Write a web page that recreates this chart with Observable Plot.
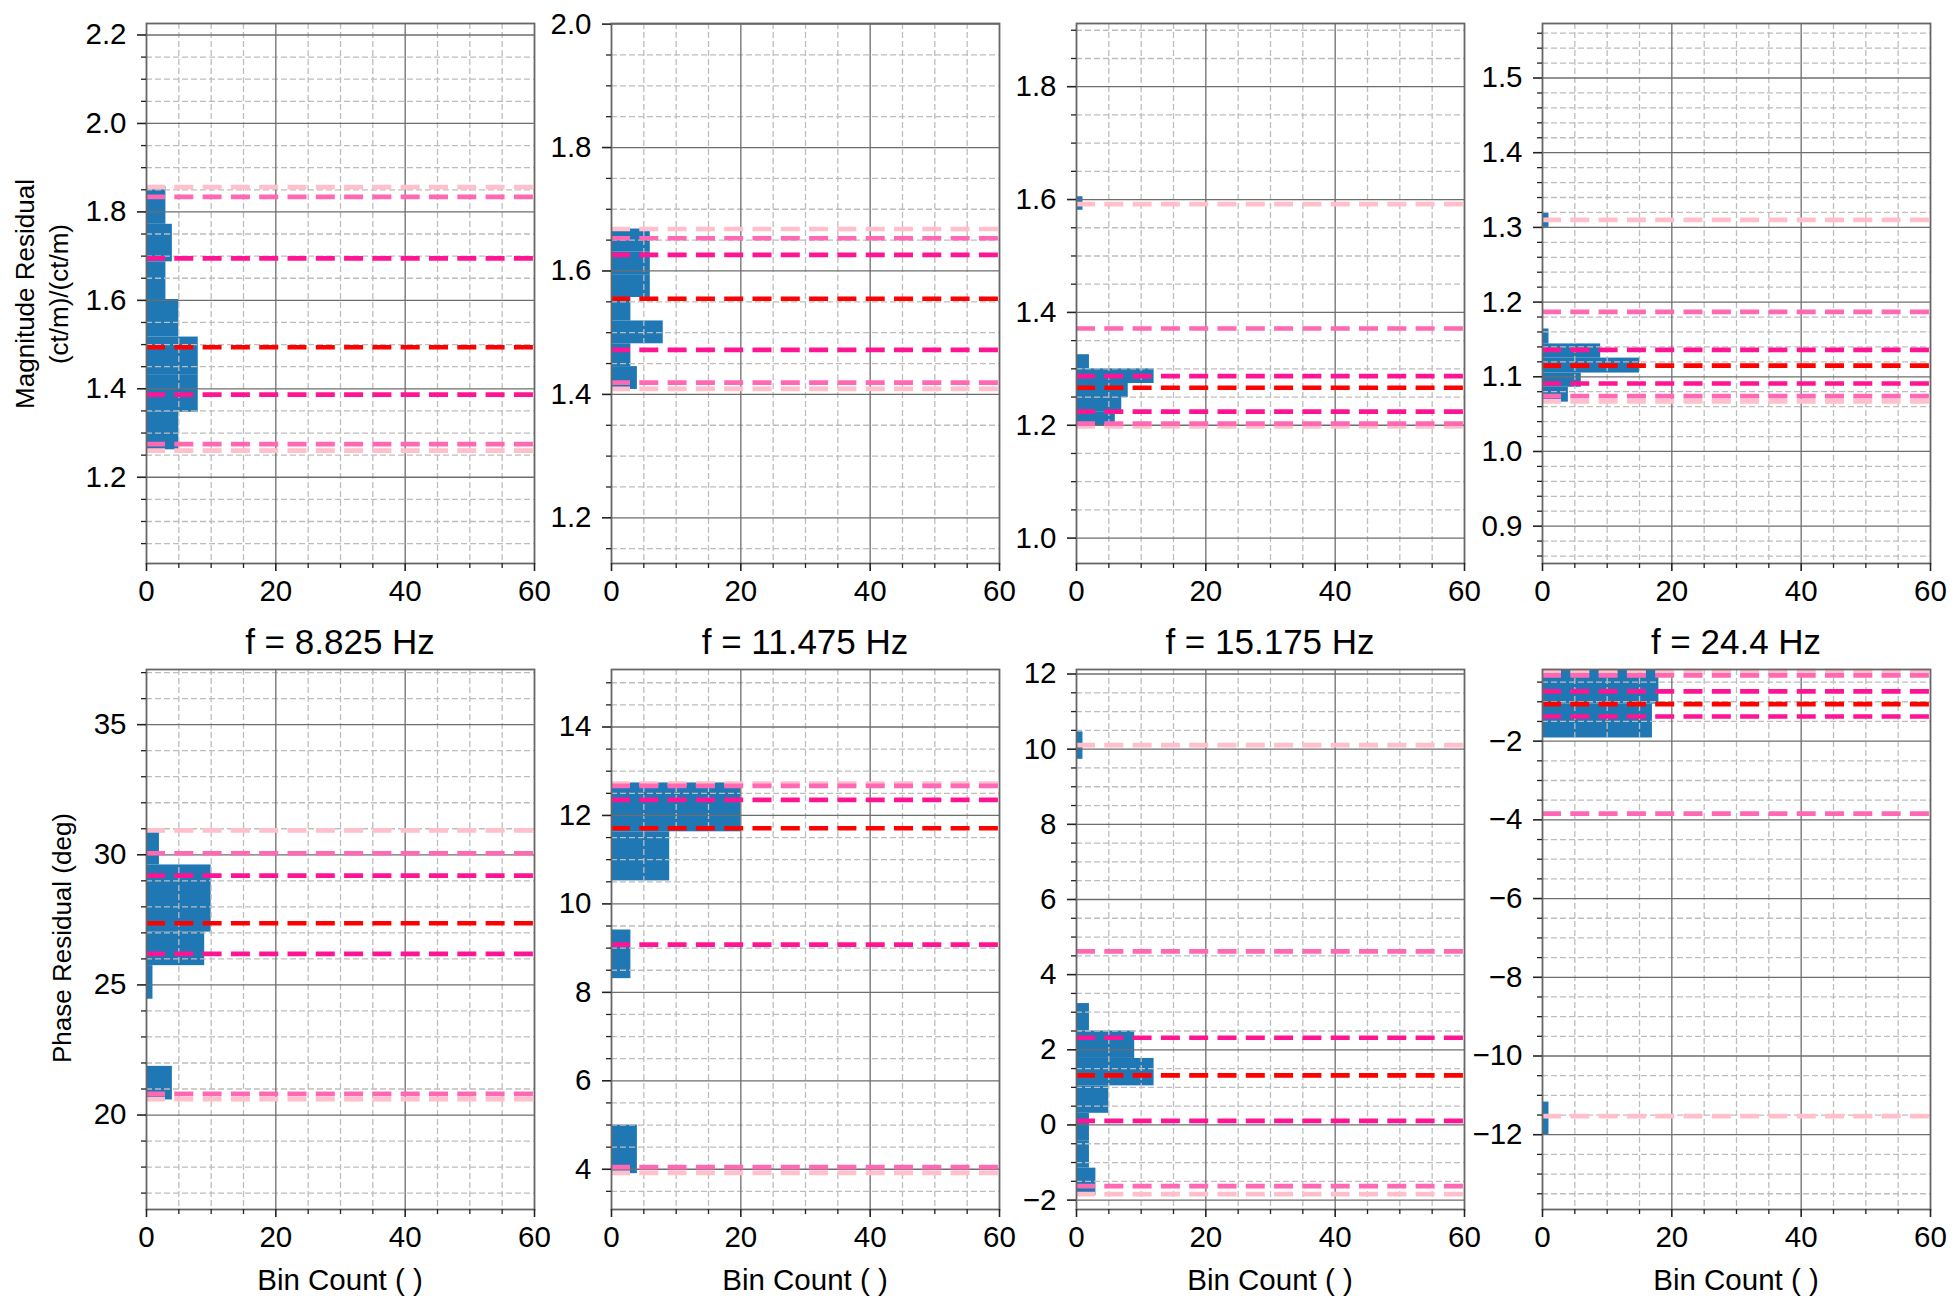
<!DOCTYPE html>
<html><head><meta charset="utf-8">
<script src="https://cdn.jsdelivr.net/npm/d3@7"></script>
<script src="https://cdn.jsdelivr.net/npm/@observablehq/plot@0.6"></script>
<style>
body{margin:0;background:#fff;}
#root{position:relative;width:1955px;height:1300px;background:#fff;font-family:"Liberation Sans",Arial,Helvetica,sans-serif;color:#000;overflow:hidden}
.panel{position:absolute}
.lbl{position:absolute;white-space:nowrap;transform:translate(-50%,-50%);line-height:1}
.ylbl{position:absolute;white-space:nowrap;transform:translate(-50%,-50%) rotate(-90deg);line-height:1.3;text-align:center}
</style></head><body><div id="root"></div>
<script>
// ---------- data ----------
const freqLabels = ["8.825", "11.475", "15.175", "24.4"];
const countTicks = [0, 20, 40, 60];
const countMinor = [5, 10, 15, 25, 30, 35, 45, 50, 55];

// histogram bins: [low edge, high edge, count]
const magBins8825 = [[1.262,1.347,5],[1.347,1.432,8],[1.432,1.517,8],[1.517,1.602,5],[1.602,1.687,3],[1.687,1.772,4],[1.772,1.857,3]];
const magBins11475 = [[1.408,1.445,4],[1.445,1.482,3],[1.482,1.519,8],[1.519,1.557,3],[1.557,1.594,6],[1.594,1.631,6],[1.631,1.668,6]];
const magBins15175 = [[1.199,1.224,6],[1.224,1.249,7],[1.249,1.274,8],[1.274,1.300,12],[1.300,1.325,2],[1.581,1.605,1]];
const magBins24400 = [[1.066,1.086,4],[1.086,1.105,6],[1.105,1.125,15],[1.125,1.144,9],[1.144,1.164,1],[1.300,1.319,1]];
const phaseBins8825 = [[20.58,21.87,4],[24.45,25.74,1],[25.74,27.03,9],[27.03,28.32,10],[28.32,29.61,10],[29.61,30.90,2]];
const phaseBins11475 = [[3.90,5.00,4],[8.31,9.41,3],[10.52,11.63,9],[11.63,12.735,20]];
const phaseBins15175 = [[-1.88,-1.15,3],[-1.15,-0.42,2],[-0.42,0.31,2],[0.31,1.04,5],[1.04,1.77,12],[1.77,2.50,9],[2.50,3.23,2],[9.73,10.46,1]];
const phaseBins24400 = [[-12.01,-11.17,1],[-1.92,-1.06,17],[-1.06,-0.18,18]];

// reference levels (upper outer ... median ... lower outer)
const magLines8825 = [1.856, 1.834, 1.695, 1.494, 1.387, 1.275, 1.260];
const magLines11475 = [1.668, 1.653, 1.626, 1.555, 1.472, 1.419, 1.409];
const magLines15175 = [1.592, 1.3715, 1.287, 1.2665, 1.224, 1.203, 1.198];
const magLines24400 = [1.310, 1.187, 1.136, 1.115, 1.091, 1.074, 1.067];
const phaseLines8825 = [30.94, 30.06, 29.20, 27.37, 26.19, 20.81, 20.61];
const phaseLines11475 = [12.72, 12.67, 12.35, 11.71, 9.08, 4.05, 3.92];
const phaseLines15175 = [10.11, 4.62, 2.32, 1.32, 0.11, -1.63, -1.84];
const phaseLines24400 = [-0.22, -0.33, -0.737, -1.061, -1.374, -3.84, -11.53];

// y domains and tick labels
const magDomain8825 = [1.005, 2.226];
const magDomain11475 = [1.126, 2.001];
const magDomain15175 = [0.955, 1.912];
const magDomain24400 = [0.850, 1.573];
const phaseDomain8825 = [16.37, 37.12];
const phaseDomain11475 = [3.09, 15.30];
const phaseDomain15175 = [-2.25, 12.12];
const phaseDomain24400 = [-13.9, -0.18];

const magTicks8825 = [1.2, 1.4, 1.6, 1.8, 2.0, 2.2];
const magTicks11475 = [1.2, 1.4, 1.6, 1.8, 2.0];
const magTicks15175 = [1.0, 1.2, 1.4, 1.6, 1.8];
const magTicks24400 = [0.9, 1.0, 1.1, 1.2, 1.3, 1.4, 1.5];
const phaseTicks8825 = [20, 25, 30, 35];
const phaseTicks11475 = [4, 6, 8, 10, 12, 14];
const phaseTicks15175 = [-2, 0, 2, 4, 6, 8, 10, 12];
const phaseTicks24400 = [-12, -10, -8, -6, -4, -2];
const minorSteps = [0.05, 0.05, 0.05, 0.02, 1, 0.5, 0.5, 0.5];

// ---------- styling / layout ----------
const lineColors = ["pink", "hotpink", "deeppink", "red", "deeppink", "hotpink", "pink"];
const lineLayer = [0, 1, 2, 3, 2, 1, 0];
const colX = [146, 611, 1076, 1542];
const rowY = [23, 669];
const W = 388, H = 540;
const ML = 90, MR = 12, MT = 12, MB = 60;
const FONT = '"Liberation Sans", Arial, Helvetica, sans-serif';

const root = document.getElementById("root");

const panels = [
  {bins: magBins8825, lines: magLines8825, domain: magDomain8825, ticks: magTicks8825, dec: 1},
  {bins: magBins11475, lines: magLines11475, domain: magDomain11475, ticks: magTicks11475, dec: 1},
  {bins: magBins15175, lines: magLines15175, domain: magDomain15175, ticks: magTicks15175, dec: 1},
  {bins: magBins24400, lines: magLines24400, domain: magDomain24400, ticks: magTicks24400, dec: 1},
  {bins: phaseBins8825, lines: phaseLines8825, domain: phaseDomain8825, ticks: phaseTicks8825, dec: 0},
  {bins: phaseBins11475, lines: phaseLines11475, domain: phaseDomain11475, ticks: phaseTicks11475, dec: 0},
  {bins: phaseBins15175, lines: phaseLines15175, domain: phaseDomain15175, ticks: phaseTicks15175, dec: 0},
  {bins: phaseBins24400, lines: phaseLines24400, domain: phaseDomain24400, ticks: phaseTicks24400, dec: 0}
];

function fmt(dec) {
  return d => (d < 0 ? "\u2212" : "") + Math.abs(d).toFixed(dec);
}

function minorTicks(domain, step, majors) {
  const lo = Math.ceil(domain[0] / step - 1e-6), hi = Math.floor(domain[1] / step + 1e-6);
  const out = [];
  for (let k = lo; k <= hi; k++) {
    const v = +(k * step).toFixed(6);
    if (!majors.some(m => Math.abs(m - v) < 1e-6)) out.push(v);
  }
  return out;
}

panels.forEach((p, i) => {
  const col = i % 4, row = Math.floor(i / 4);
  const rules = p.lines.map((v, j) => ({y: v, color: lineColors[j], layer: lineLayer[j]}))
    .sort((a, b) => a.layer - b.layer);
  const yMinor = minorTicks(p.domain, minorSteps[i], p.ticks);
  const yMajorIn = p.ticks.filter(t => t > p.domain[0] && t < p.domain[1]);
  const chart = Plot.plot({
    width: W + ML + MR,
    height: H + MT + MB,
    marginLeft: ML, marginRight: MR, marginTop: MT, marginBottom: MB,
    x: {domain: [0, 60]},
    y: {domain: p.domain},
    color: {type: "identity"},
    style: {fontFamily: FONT, fontSize: "29.5px", background: "transparent", color: "#000", overflow: "visible"},
    marks: [
      Plot.rect(p.bins, {x1: 0, x2: d => d[2], y1: d => d[0], y2: d => d[1], fill: "#1f77b4"}),
      Plot.gridX(countMinor, {stroke: "#bdbdbd", strokeOpacity: 1, strokeWidth: 1.3, strokeDasharray: "6,3"}),
      Plot.gridY(yMinor, {stroke: "#bdbdbd", strokeOpacity: 1, strokeWidth: 1.3, strokeDasharray: "6,3"}),
      Plot.gridX([20, 40], {stroke: "#6e6e6e", strokeOpacity: 1, strokeWidth: 1.3}),
      Plot.gridY(yMajorIn, {stroke: "#6e6e6e", strokeOpacity: 1, strokeWidth: 1.3}),
      Plot.ruleY(rules, {y: "y", stroke: "color", strokeWidth: 4.7, strokeDasharray: "19,9.3"}),
      Plot.frame({stroke: "#666", strokeWidth: 1.8}),
      Plot.axisX(countTicks, {tickSize: 8, tickPadding: 9, fontSize: 29.5, tickFormat: d => String(d), label: null, stroke: "#222", strokeWidth: 1.6}),
      Plot.axisX(countMinor, {tickSize: 5, tickFormat: () => "", label: null, stroke: "#222", strokeWidth: 1.3}),
      Plot.axisY(yMajorIn, {tickSize: 9, tickPadding: 11, fontSize: 29.5, tickFormat: fmt(p.dec), label: null, stroke: "#222", strokeWidth: 1.6}),
      Plot.axisY(yMinor, {tickSize: 5, tickFormat: () => "", label: null, stroke: "#222", strokeWidth: 1.3})
    ]
  });
  const wrap = document.createElement("div");
  wrap.className = "panel";
  wrap.style.left = (colX[col] - ML) + "px";
  wrap.style.top = (rowY[row] - MT) + "px";
  wrap.appendChild(chart);
  root.appendChild(wrap);

  if (row === 1) {
    const t = document.createElement("div");
    t.className = "lbl";
    t.style.left = (colX[col] + W / 2) + "px";
    t.style.top = "641px";
    t.style.fontSize = "35px";
    t.textContent = "f = " + freqLabels[col] + " Hz";
    root.appendChild(t);
    const xl = document.createElement("div");
    xl.className = "lbl";
    xl.style.left = (colX[col] + W / 2) + "px";
    xl.style.top = "1280px";
    xl.style.fontSize = "29.5px";
    xl.textContent = "Bin Count ( )";
    root.appendChild(xl);
  }
});

const yl1 = document.createElement("div");
yl1.className = "ylbl";
yl1.style.left = "43px"; yl1.style.top = "294px"; yl1.style.fontSize = "26px";
yl1.innerHTML = "Magnitude Residual<br>(ct/m)/(ct/m)";
root.appendChild(yl1);
const yl2 = document.createElement("div");
yl2.className = "ylbl";
yl2.style.left = "63px"; yl2.style.top = "938px"; yl2.style.fontSize = "26px";
yl2.textContent = "Phase Residual (deg)";
root.appendChild(yl2);
</script></body></html>
